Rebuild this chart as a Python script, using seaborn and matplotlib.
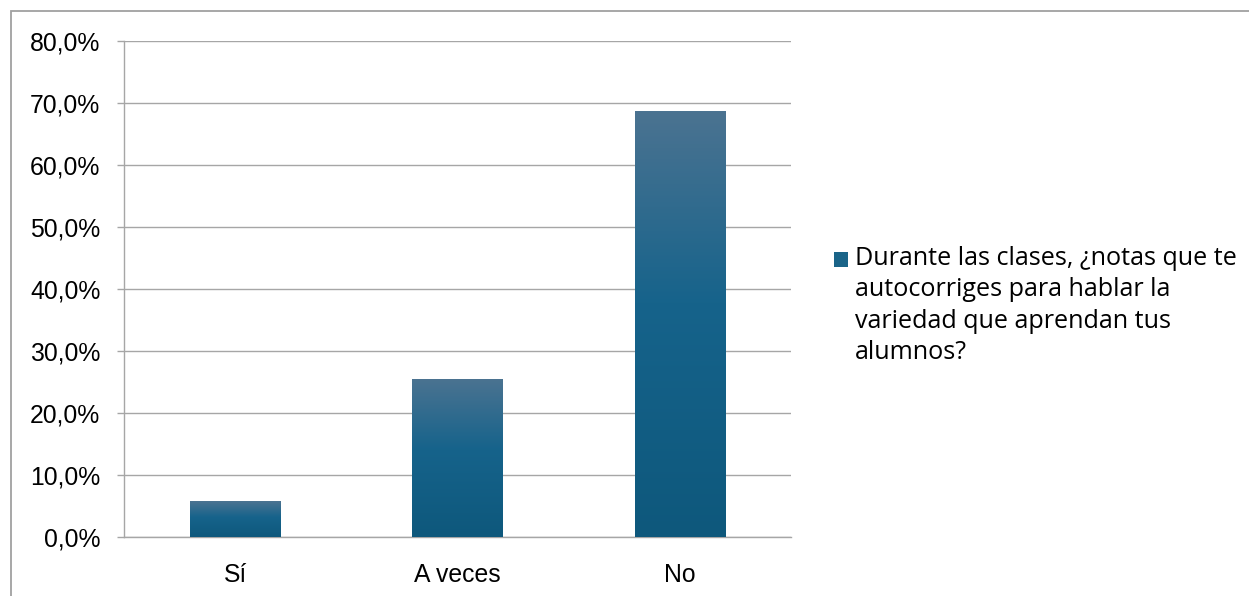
import numpy as np
import pandas as pd
import matplotlib
matplotlib.use("Agg")
import matplotlib.pyplot as plt
import seaborn as sns
from matplotlib.colors import LinearSegmentedColormap
from matplotlib.patches import Rectangle
from matplotlib.ticker import FuncFormatter, FixedLocator

# Survey answers and their share of responses (%)
categories = ["Sí", "A veces", "No"]
values = [5.8, 25.5, 68.7]
series_name = "Durante las clases, ¿notas que te\nautocorriges para hablar la\nvariedad que aprendan tus\nalumnos?"
y_ticks = [0, 10, 20, 30, 40, 50, 60, 70, 80]

df = pd.DataFrame({"respuesta": categories, "porcentaje": values})

sns.set_theme(style="white")
plt.rcParams["font.family"] = ["Liberation Sans", "DejaVu Sans"]

W, H = 1249, 596
fig = plt.figure(figsize=(W / 100, H / 100), dpi=100)
fig.patch.set_facecolor("white")

# plot area in pixel units
left, right, top, bottom = 124, 791, 41, 537
ax = fig.add_axes([left / W, 1 - bottom / H, (right - left) / W, (bottom - top) / H])

grid_col = "#a6a6a6"
sns.barplot(data=df, x="respuesta", y="porcentaje", ax=ax, color="#14618a",
            width=0.405, saturation=1, zorder=3)

# vertical gradient fill, lighter at the top of each bar
cmap = LinearSegmentedColormap.from_list(
    "bar_grad", [(0.0, "#4b7391"), (0.45, "#16638b"), (1.0, "#0e587c")])
grad = np.linspace(0, 1, 256).reshape(-1, 1)
for patch in ax.patches:
    x0, y0 = patch.get_x(), patch.get_y()
    w, h = patch.get_width(), patch.get_height()
    im = ax.imshow(grad, cmap=cmap, extent=[x0, x0 + w, y0, y0 + h],
                   aspect="auto", origin="upper", zorder=3)
    im.set_clip_path(patch)
    patch.set_facecolor("none")
    patch.set_edgecolor("none")

ax.set_xlim(-0.5, 2.5)
ax.set_ylim(0, 80)
ax.set_xlabel("")
ax.set_ylabel("")

ax.yaxis.set_major_locator(FixedLocator(y_ticks))
ax.yaxis.set_major_formatter(FuncFormatter(lambda v, p: f"{v:.1f}%".replace(".", ",")))
ax.grid(axis="y", color=grid_col, linewidth=1.0, zorder=0)
ax.set_axisbelow(True)

for s in ["top", "right"]:
    ax.spines[s].set_visible(False)
for s in ["left", "bottom"]:
    ax.spines[s].set_color(grid_col)
    ax.spines[s].set_linewidth(1.0)

ax.set_xticks([-0.5, 0.5, 1.5, 2.5], minor=True)
ax.tick_params(axis="x", which="major", length=0, pad=19, labelsize=17.8, labelcolor="black")
ax.tick_params(axis="x", which="minor", length=5, width=1.0, color=grid_col, direction="out")
ax.tick_params(axis="y", which="major", length=5, width=1.0, color=grid_col, direction="out",
               pad=12, labelsize=17.8, labelcolor="black", left=True)

# chart border
fig.patches.append(Rectangle((11 / W, -0.2), 1.2, 1.2 - 11 / H, transform=fig.transFigure,
                             fill=False, edgecolor="#a0a0a0", linewidth=1.3, clip_on=False))

# legend: swatch and wrapped series name
fig.patches.append(Rectangle((834 / W, 1 - 267 / H), 14 / W, 15 / H, transform=fig.transFigure,
                             facecolor="#1a6488", edgecolor="none"))
fig.text(855 / W, 1 - 246 / H, series_name, ha="left", va="top", fontsize=18.1,
         family=["Open Sans", "DejaVu Sans"], linespacing=1.33, color="black")

fig.savefig("out.png", dpi=100, facecolor="white")
